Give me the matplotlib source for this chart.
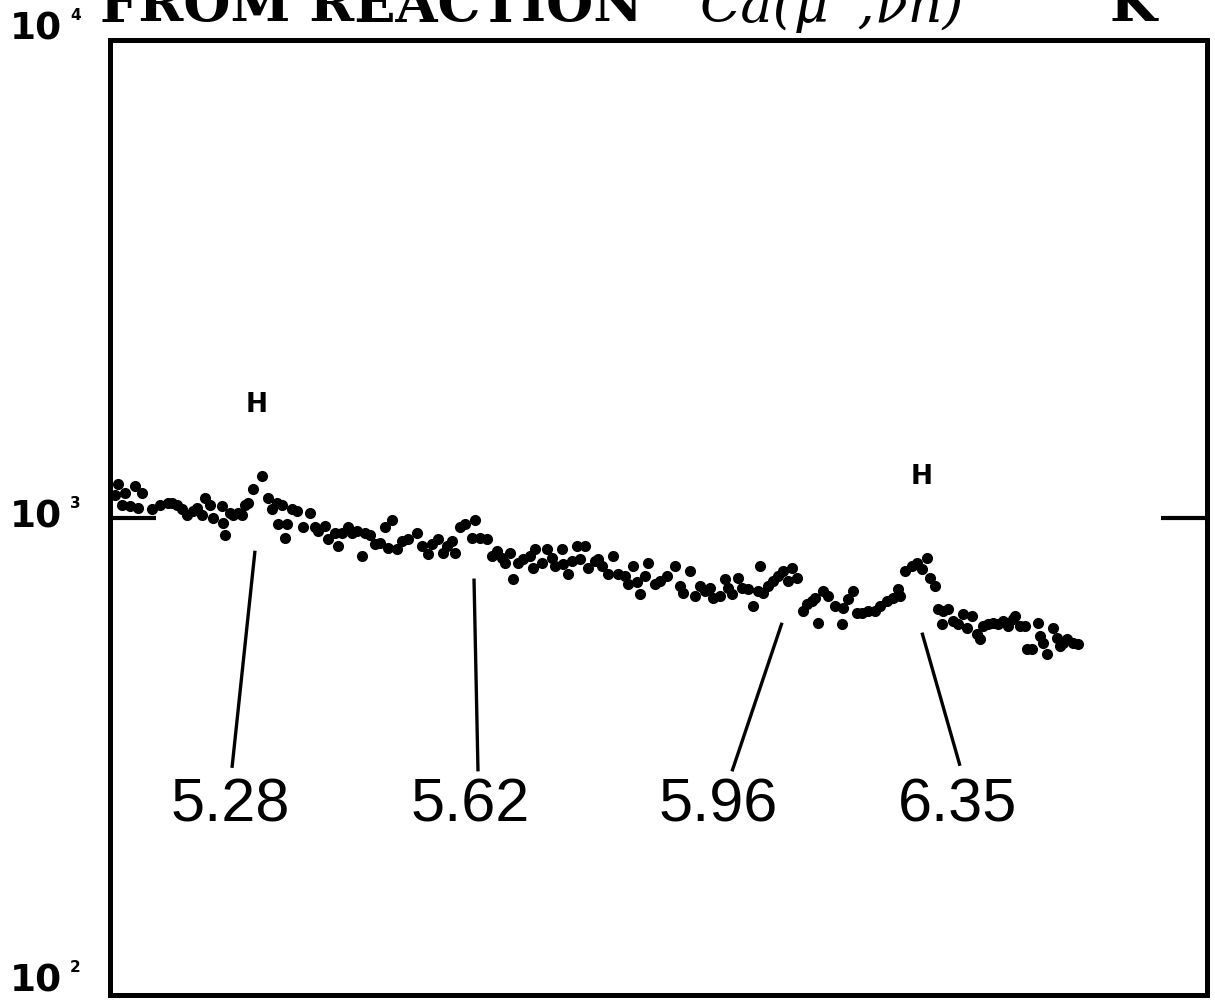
import numpy as np
import matplotlib
matplotlib.use("Agg")
import matplotlib.pyplot as plt

# Spectrum: channel number and counts per channel
channel = [5, 8, 12, 15, 20, 25, 28, 32, 42, 50, 58, 62, 67, 72, 77, 83, 87, 92, 95, 100,
           103, 112, 113, 115, 120, 123, 128, 132, 135, 138, 143, 152, 158, 162, 167, 168,
           172, 175, 177, 182, 187, 193, 200, 205, 208, 215, 218, 225, 228, 232, 238, 242,
           247, 252, 255, 260, 265, 270, 275, 278, 282, 287, 292, 298, 307, 312, 318, 322,
           328, 333, 337, 342, 345, 350, 355, 362, 365, 370, 377, 382, 387, 392, 395, 400,
           403, 408, 413, 420, 423, 425, 432, 437, 442, 445, 452, 453, 458, 462, 467, 470,
           475, 478, 485, 488, 492, 498, 503, 508, 515, 518, 523, 527, 530, 535, 538, 545,
           550, 557, 565, 570, 573, 580, 585, 590, 595, 600, 603, 610, 615, 618, 622, 628,
           632, 638, 643, 648, 650, 653, 658, 663, 668, 673, 678, 682, 687, 693, 697, 702,
           705, 708, 713, 718, 725, 732, 733, 738, 743, 747, 752, 758, 765, 770, 777, 783,
           788, 790, 795, 802, 807, 812, 817, 820, 825, 828, 832, 833, 838, 843, 848, 853,
           857, 862, 867, 870, 873, 878, 883, 888, 893, 898, 903, 905, 910, 915, 917, 922,
           928, 930, 933, 937, 943, 947, 950, 953, 957, 963, 968]
counts = [1112, 1173, 1060, 1123, 1055, 1162, 1049, 1128, 1044, 1060, 1075, 1075, 1060, 1044,
          1010, 1034, 1049, 1010, 1096, 1060, 998, 1055, 976, 917, 1024, 1010, 1024, 1010,
          1060, 1075, 1150, 1219, 1096, 1044, 1075, 971, 1060, 908, 971, 1044, 1034, 953,
          1024, 953, 939, 962, 903, 930, 873, 930, 953, 930, 939, 832, 930, 917, 882, 886,
          953, 865, 986, 861, 895, 903, 930, 873, 840, 882, 903, 844, 873, 895, 844, 953,
          971, 908, 986, 908, 903, 832, 852, 824, 804, 844, 745, 804, 820, 832, 785, 861,
          804, 861, 824, 793, 861, 800, 763, 812, 873, 820, 873, 785, 812, 820, 793, 763,
          832, 763, 755, 727, 793, 731, 693, 755, 804, 727, 738, 755, 793, 720, 696, 774,
          686, 720, 703, 713, 679, 686, 745, 713, 693, 748, 713, 710, 654, 703, 793, 696,
          720, 738, 755, 774, 738, 785, 748, 638, 660, 670, 679, 602, 703, 686, 654, 599,
          647, 676, 703, 632, 632, 638, 638, 654, 670, 679, 710, 686, 774, 793, 804, 781,
          824, 748, 720, 644, 599, 638, 644, 608, 599, 629, 588, 623, 571, 557, 593, 599,
          602, 599, 608, 593, 614, 623, 593, 593, 531, 531, 602, 565, 547, 518, 588, 560,
          539, 547, 557, 547, 544]

# Line energies (MeV) with the pointer line ends and label positions
line_labels = ["5.28", "5.62", "5.96", "6.35"]
line_top_ch = [145, 364, 672, 812]
line_top_cnt = [852, 745, 602, 574]
line_bot_ch = [122, 368, 622, 850]
line_bot_cnt = [299, 294, 294, 302]
label_ch = [120, 360, 608, 848]
label_cnt = [249, 249, 249, 249]

# "H" marks above two peaks
h_ch = [147, 812]
h_cnt = [1718, 1213]

fig = plt.figure(figsize=(12.15, 10.08), dpi=100)
ax = fig.add_axes([110 / 1215, 1 - 995 / 1008, 1097 / 1215, 955 / 1008])
ax.set_yscale("log")
ax.set_ylim(100, 10000)
ax.set_xlim(0, 1097)

ax.plot(channel, counts, "o", color="black", ms=7, mec="black")

for lab, x0, y0, x1, y1, lx, ly in zip(line_labels, line_top_ch, line_top_cnt,
                                       line_bot_ch, line_bot_cnt, label_ch, label_cnt):
    ax.plot([x0, x1], [y0, y1], color="black", lw=2.4, solid_capstyle="butt")
    ax.text(lx, ly, lab, ha="center", va="center", fontsize=44,
            family="Liberation Sans", color="black")

for x, y in zip(h_ch, h_cnt):
    ax.text(x, y, "H", ha="center", va="center", fontsize=19,
            fontweight="bold", color="black")

# frame and the single inward 10^3 tick on both sides
for sp in ax.spines.values():
    sp.set_linewidth(3.6)
ax.set_xticks([])
ax.yaxis.set_minor_locator(matplotlib.ticker.NullLocator())
ax.set_yticks([1000])
ax.tick_params(axis="y", which="major", direction="in", length=33, width=3,
               left=True, right=True, labelleft=False)

# decade labels
for y_px, sup in [(30, "4"), (518, "3"), (982, "2")]:
    fig.text(10 / 1215, 1 - y_px / 1008, "10", fontsize=27, fontweight="bold",
             ha="left", va="center")
    fig.text(70 / 1215, 1 - (y_px - 14) / 1008, sup, fontsize=11, fontweight="bold",
             ha="left", va="center")

# title, cut off by the top of the scan
title_y = 1 - 22 / 1008
fig.text(100 / 1215, title_y, "FROM REACTION", fontsize=39, fontweight="bold",
         family="DejaVu Serif", ha="left", va="baseline")
fig.text(700 / 1215, title_y, "Ca(\u03bc\u207b,\u03bdn)", fontsize=39,
         style="italic", family="DejaVu Serif", ha="left", va="baseline")
fig.text(1110 / 1215, title_y, "K", fontsize=39, fontweight="bold",
         family="DejaVu Serif", ha="left", va="baseline")

fig.savefig("out.png", dpi=100)
